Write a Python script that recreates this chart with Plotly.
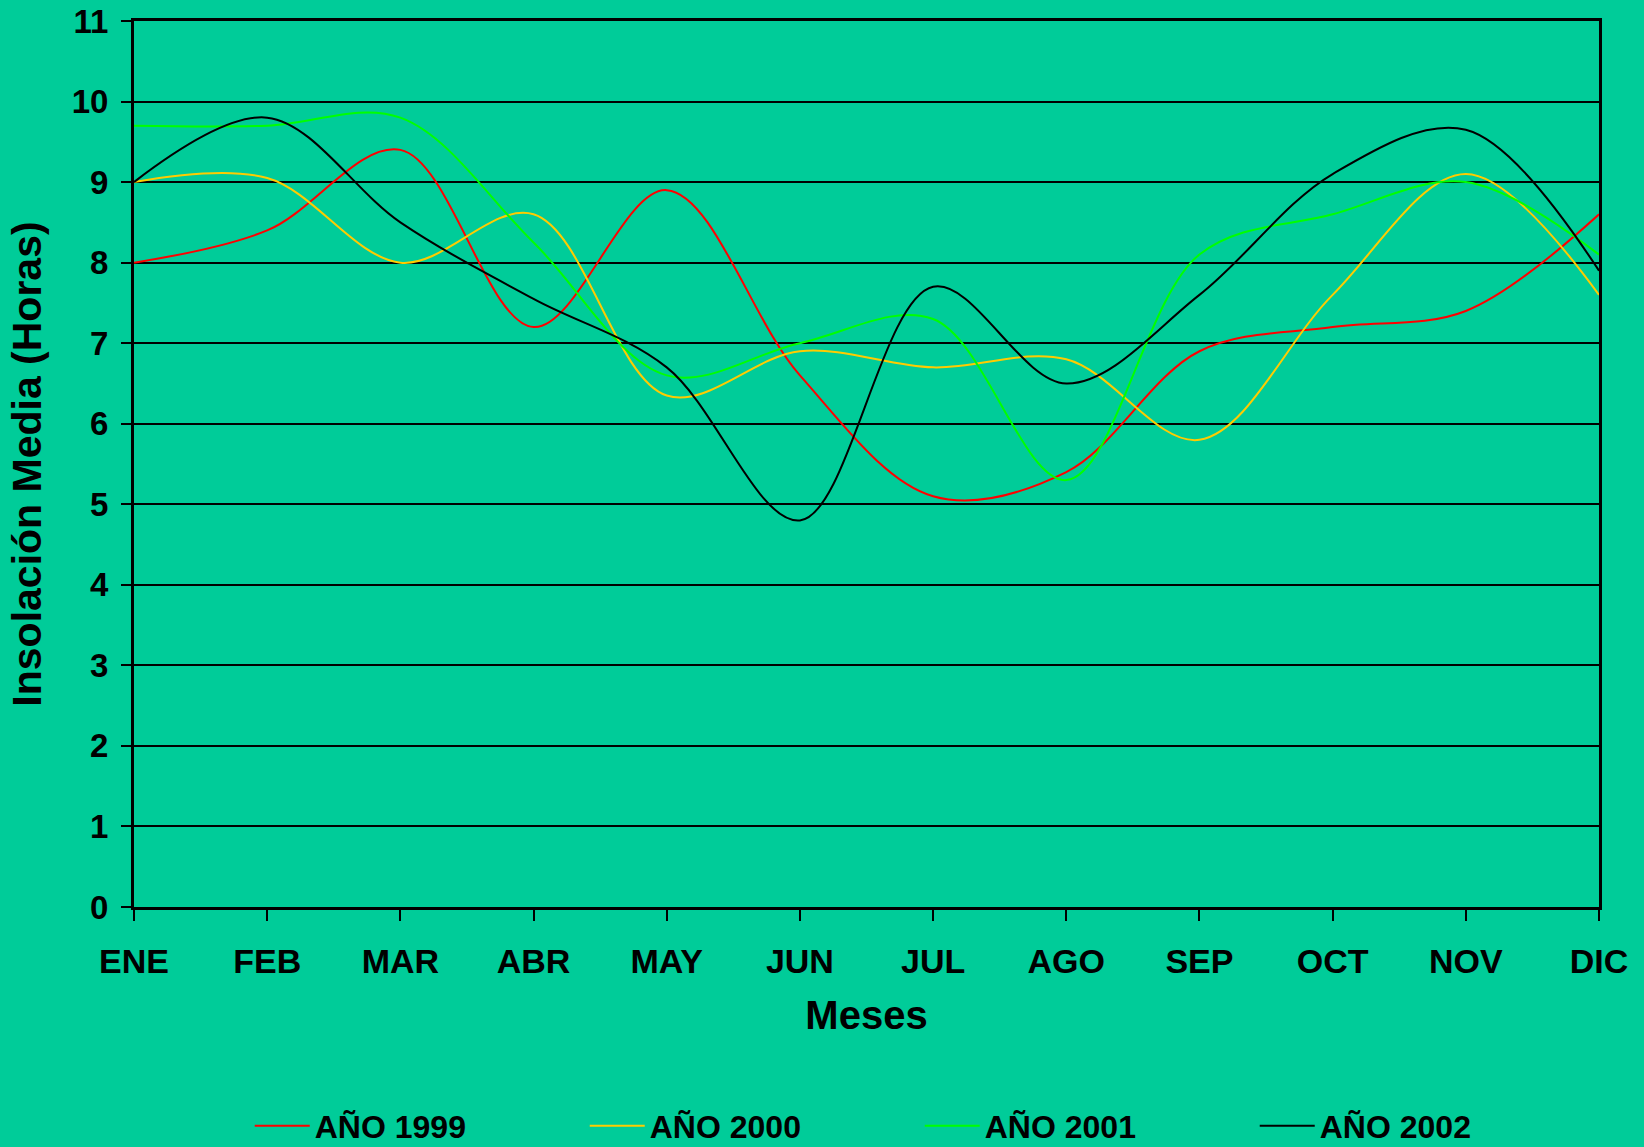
import plotly.graph_objects as go

# Monthly mean sunshine hours per year
meses = ["ENE", "FEB", "MAR", "ABR", "MAY", "JUN", "JUL", "AGO", "SEP", "OCT", "NOV", "DIC"]
anio_1999 = [8.0, 8.4, 9.4, 7.2, 8.9, 6.6, 5.1, 5.4, 6.9, 7.2, 7.4, 8.6]
anio_2000 = [9.0, 9.05, 8.0, 8.6, 6.35, 6.9, 6.7, 6.8, 5.8, 7.6, 9.1, 7.6]
anio_2001 = [9.7, 9.7, 9.8, 8.25, 6.6, 7.0, 7.3, 5.3, 8.1, 8.6, 9.0, 8.1]
anio_2002 = [9.0, 9.8, 8.5, 7.55, 6.7, 4.8, 7.7, 6.5, 7.6, 9.1, 9.65, 7.9]

series = [
    ("AÑO 1999", anio_1999, "#FF0000"),
    ("AÑO 2000", anio_2000, "#FFCC00"),
    ("AÑO 2001", anio_2001, "#00FF00"),
    ("AÑO 2002", anio_2002, "#000000"),
]

BG = "#00CC99"
FONT = "Liberation Sans, Arial, sans-serif"

x_pos = list(range(len(meses)))

fig = go.Figure()
for nombre, valores, color in series:
    fig.add_trace(go.Scatter(
        x=x_pos, y=valores, name=nombre, mode="lines",
        line=dict(color=color, width=2, shape="spline", smoothing=1.0),
    ))

fig.update_layout(
    width=1644, height=1147,
    margin=dict(l=134, r=45, t=21, b=240, autoexpand=False),
    paper_bgcolor=BG, plot_bgcolor=BG,
    font=dict(family=FONT, color="#000000", size=33, weight="bold"),
    showlegend=True,
    legend=dict(
        orientation="h",
        x=0.079, xanchor="left",
        y=-0.2471, yanchor="middle",
        entrywidth=265, entrywidthmode="pixels",
        font=dict(family=FONT, size=32, color="#000000", weight="bold"),
        bgcolor="rgba(0,0,0,0)",
        itemwidth=55,
    ),
)

fig.update_xaxes(
    range=[0, 11],
    tickmode="array", tickvals=x_pos, ticktext=meses,
    showgrid=False, zeroline=False,
    showline=True, linecolor="#000000", linewidth=3, mirror=True,
    ticks="outside", ticklen=11, tickwidth=2, tickcolor="#000000",
    ticklabelstandoff=11,
    tickfont=dict(family=FONT, size=34, weight="bold"),
    title=dict(text="Meses", font=dict(family=FONT, size=40, weight="bold"), standoff=23),
)

fig.update_yaxes(
    range=[0, 11], dtick=1, tick0=0,
    showgrid=True, gridcolor="#000000", gridwidth=2,
    zeroline=False,
    showline=True, linecolor="#000000", linewidth=3, mirror=True,
    ticks="outside", ticklen=10, tickwidth=2, tickcolor="#000000",
    ticklabelstandoff=6,
    tickfont=dict(family=FONT, size=33, weight="bold"),
    title=dict(text="Insolación Media (Horas)", font=dict(family=FONT, size=41, weight="bold"), standoff=18),
)

fig.write_html("out.html")
